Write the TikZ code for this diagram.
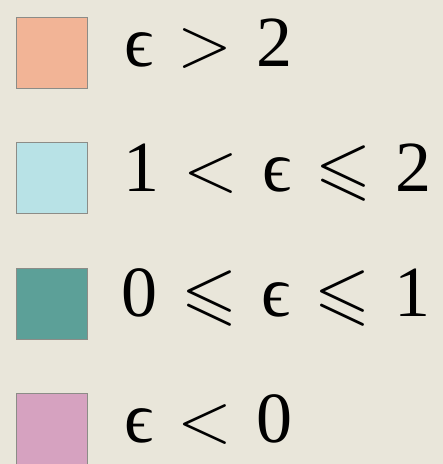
\RequirePackage{fix-cm}
\documentclass[tikz,border=0pt]{standalone}
\usepackage{amssymb}
\usepackage{fontspec}
\setmainfont{Liberation Serif}
\newcommand{\dg}[1]{\mbox{#1}}
\newcommand{\eps}{\mbox{ϵ}}
\thickmuskip=6mu
\definecolor{bg}{RGB}{233,230,218}
\definecolor{cA}{RGB}{242,180,150}
\definecolor{cB}{RGB}{184,226,230}
\definecolor{cC}{RGB}{92,160,152}
\definecolor{cD}{RGB}{214,162,192}
\definecolor{edge}{RGB}{140,140,135}
\begin{document}
\begin{tikzpicture}[x=1pt,y=1pt,
  swatch/.style={draw=edge, line width=1.2pt, minimum size=71pt, inner sep=0pt, anchor=north west},
  lbl/.style={anchor=base west, inner sep=0pt, font=\fontsize{72}{80}\selectfont}]
\fill[bg] (0,0) rectangle (443,464);
\useasboundingbox (0,0) rectangle (443,464);
\node[swatch, fill=cA] (s1) at (16,447) {};
\node[swatch, fill=cB] (s2) at (16,322) {};
\node[swatch, fill=cC] (s3) at (16,196) {};
\node[swatch, fill=cD] (s4) at (16,71) {};
\node[lbl] (t1) at (124,397) {$\thickmuskip=6mu \eps > \dg{2}$};
\node[lbl] (t2) at (123,272) {$\thickmuskip=6mu \dg{1} < \eps \leqslant \dg{2}$};
\node[lbl] (t3) at (121,147) {$\thickmuskip=6mu \dg{0} \leqslant \eps \leqslant \dg{1}$};
\node[lbl] (t4) at (124,21) {$\thickmuskip=6mu \eps < \dg{0}$};
\end{tikzpicture}
\end{document}
